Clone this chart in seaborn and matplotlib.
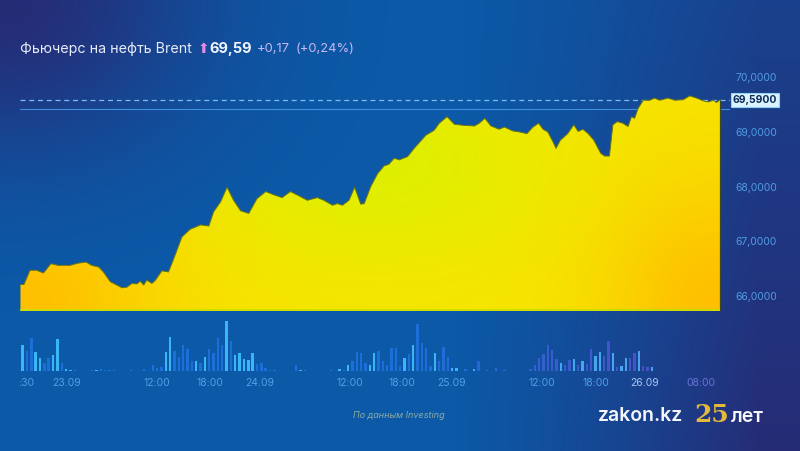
import numpy as np
import seaborn as sns
import matplotlib.pyplot as plt
from matplotlib.colors import to_rgb

# Brent futures, 30-min bar index -> price (USD)
price_t = [0.5, 1.3, 2.7, 4.2, 5.8, 7.5, 9.2, 11.9, 13.8, 15.6, 16.9, 18.5, 19.6, 21.2,
           23.9, 25.0, 26.2, 27.3, 28.1, 28.9, 29.6, 30.8, 31.6, 33.1, 34.6, 35.8, 37.7,
           39.6, 42.0, 43.9, 45.0, 46.6, 48.1, 49.6, 51.2, 53.1, 55.0, 57.0, 58.9, 60.8,
           62.7, 64.7, 66.6, 68.9, 70.4, 72.4, 73.5, 74.7, 76.2, 77.5, 78.9, 79.7, 81.2,
           82.8, 84.3, 85.4, 86.6, 87.8, 89.7, 91.2, 93.9, 95.8, 97.0, 98.8, 100.5, 102.8,
           105.1, 106.2, 107.5, 108.9, 110.8, 112.0, 113.9, 115.5, 117.2, 118.6, 119.9,
           120.9, 122.0, 123.2, 123.9, 124.9, 126.6, 128.0, 129.0, 130.1, 131.3, 132.6,
           134.2, 135.1, 136.2, 137.0, 138.0, 139.3, 140.5, 141.3, 142.0, 142.8, 144.0,
           145.5, 146.6, 147.8, 149.7, 151.3, 153.2, 154.7, 156.3, 157.8, 159.0, 160.1,
           160.9, 161.7]
price = [66.21, 66.21, 66.47, 66.47, 66.42, 66.59, 66.56, 66.56, 66.60, 66.62, 66.56, 66.53,
         66.44, 66.26, 66.15, 66.16, 66.23, 66.22, 66.27, 66.20, 66.29, 66.23, 66.29, 66.46,
         66.44, 66.68, 67.08, 67.22, 67.30, 67.28, 67.54, 67.72, 67.99, 67.75, 67.56, 67.51,
         67.78, 67.91, 67.85, 67.80, 67.91, 67.83, 67.75, 67.80, 67.75, 67.66, 67.69, 67.66,
         67.75, 67.99, 67.68, 67.69, 68.00, 68.24, 68.38, 68.41, 68.52, 68.49, 68.55, 68.70,
         68.94, 69.03, 69.16, 69.28, 69.14, 69.12, 69.11, 69.16, 69.25, 69.11, 69.05, 69.09,
         69.02, 69.00, 68.97, 69.09, 69.16, 69.05, 69.00, 68.82, 68.70, 68.85, 68.97, 69.13,
         69.01, 69.05, 68.97, 68.85, 68.61, 68.56, 68.56, 69.13, 69.19, 69.16, 69.10, 69.28,
         69.25, 69.43, 69.58, 69.58, 69.62, 69.58, 69.62, 69.58, 69.59, 69.66, 69.62, 69.57,
         69.55, 69.58, 69.54, 69.59]

# volume per 30-min bar (relative units), l = light bar, d = dark bar
volume = [23, 26, 20, 33, 19, 13, 8, 13, 16, 32, 8, 2, 1.5, 1, 0.5, 0.3, 0.3, 1, 1, 2,
          1, 1, 1.3, 0.5, 0.5, 0.3, 0.7, 0.3, 0.3, 2.3, 0.5, 5.7, 3.3, 4, 19, 34,
          20, 14, 26, 22, 10, 10, 8, 14, 22, 18, 33, 26, 50, 30, 16, 18, 12, 11, 18, 7,
          8, 3, 1, 1, 0.5, 0.5, 0.3, 0.3, 6, 1, 1, 0.3, 0.3, 0.3, 0.3, 0.3, 1, 0.3, 1.7, 1.5,
          6, 10, 19, 18, 8, 6, 18, 20, 10, 6, 23, 23, 5, 13, 17, 26, 47, 28, 23, 5,
          18, 10, 24, 14, 3.3, 3.3, 0.3, 1.7, 0.5, 1.7, 10, 0.3, 1, 0.3, 3.3, 0.3, 1, 0.3,
          0.3, 0.3, 0.3, 0.3, 2.3, 5.7, 12.7, 16.7, 26, 21, 11.7, 8.3, 5.7, 11, 11.7, 5.7,
          10, 6.7, 21.7, 15, 19, 15, 30, 17.7, 4.3, 5, 13.3, 13.3, 17.7, 20, 5, 4.3, 4.3]
vol_side = ("dlddllddlldlldddddldddddddddldldd" "dll"
            "dddddldlddddldllllldddddlddddldlddddddldldd"
            "ddllddddddldlddddldddllddlldldddddddddddddddddlddldlddllddldllddlddldldl")

tick_pos = [1.9, 11.2, 31.9, 44.2, 55.7, 76.4, 88.4, 99.9, 120.7, 133.1, 144.4, 157.2]
tick_lab = [':30', '23.09', '12:00', '18:00', '24.09', '12:00', '18:00', '25.09',
            '12:00', '18:00', '26.09', '08:00']
y_ticks = [66, 67, 68, 69, 70]
last_price = 69.59
change = 0.17
change_pct = 0.24

sns.set_theme(style='white')
plt.rcParams['font.family'] = ['Inter', 'DejaVu Sans']

W, H = 800, 451
fig = plt.figure(figsize=(8, 4.51), dpi=100)


def fx(px):
    return px / W


def fy(py):
    return 1 - py / H


# background gradient
bg = fig.add_axes([0, 0, 1, 1], zorder=-10)
bx, by = np.meshgrid(np.linspace(0, 1, 400), np.linspace(0, 1, 226))
blue = np.array(to_rgb('#0b5aa8'))
navy = np.array(to_rgb('#262c76'))
w_tl = np.exp(-(bx ** 2 / 0.06 + by ** 2 / 0.12))
w_r = np.clip((bx - 0.55) / 0.4, 0, 1) ** 1.3 * (0.55 + 0.45 * by)
w_n = np.clip(np.maximum(w_tl, w_r), 0, 1)[..., None]
bg.imshow(blue * (1 - w_n) + navy * w_n, extent=[0, 1, 0, 1], aspect='auto')
bg.axis('off')

# price panel
x_lo, x_hi = (20 - 18.3) / 4.34, (730 - 18.3) / 4.34
y_lo, y_hi = 65.725, 70.207
ax = fig.add_axes([fx(20), fy(311), fx(710), (311 - 66) / H])
ax.set_facecolor('none')
ax.set_xlim(x_lo, x_hi)
ax.set_ylim(y_lo, y_hi)

poly = ax.fill_between(price_t, price, y_lo, color='none', lw=0)
gx, gy = np.meshgrid(np.linspace(0, 1, 300), np.linspace(1, 0, 200))
yel = np.array(to_rgb('#f7e500'))
ora = np.array(to_rgb('#ffc000'))
lim = np.array(to_rgb('#dcf000'))
w_o = np.maximum(np.exp(-(gx ** 2 / 0.04 + gy ** 2 / 0.35)),
                 np.exp(-((gx - 0.98) ** 2 / 0.025 + gy ** 2 / 0.3)))[..., None]
w_l = (0.9 * np.exp(-((gx - 0.5) ** 2 / 0.06 + (gy - 0.6) ** 2 / 0.15)))[..., None]
fill_img = np.clip(yel + w_o * (ora - yel) + w_l * (lim - yel), 0, 1)
im = ax.imshow(fill_img, extent=[x_lo, x_hi, y_lo, y_hi], aspect='auto', zorder=1)
im.set_clip_path(poly.get_paths()[0], transform=ax.transData)

sns.lineplot(x=price_t, y=price, ax=ax, color='#6a7418', lw=0.7, zorder=2)
ax.vlines(price_t[-1], y_lo, price[-1], color='#3d4a20', lw=0.9, zorder=2)
ax.hlines(y_lo + 0.01, price_t[0], price_t[-1], color='#c6e000', lw=1.2, zorder=2)

ax.axhline(last_price, color='#7dbcf0', lw=0.9, ls=(0, (4, 3)), zorder=0.5)
ax.axhline(last_price - change, color='#3f8fe0', lw=0.8, zorder=0.5)
ax.text(1.004, last_price, f'{last_price:.4f}'.replace('.', ','),
        transform=ax.get_yaxis_transform(), ha='left', va='center', fontsize=7.5,
        fontweight='bold', color='#0c2c58', clip_on=False,
        bbox=dict(boxstyle='square,pad=0.2', fc='#dcf3ff', ec='#8fd0f5', lw=0.8))

ax.yaxis.tick_right()
ax.set_yticks(y_ticks, [f'{v:.4f}'.replace('.', ',') for v in y_ticks])
ax.tick_params(axis='y', length=0, pad=4, labelsize=7.5, labelcolor='#4f9ce2')
ax.set_xticks([])
for s in ax.spines.values():
    s.set_visible(False)
ax.set_xlabel('')
ax.set_ylabel('')

# volume panel
axv = fig.add_axes([fx(20), fy(371), fx(710), 55 / H])
axv.set_facecolor('none')
idx = np.arange(len(volume))
sns.barplot(x=idx, y=volume, native_scale=True, width=0.55, errorbar=None,
            color='#1f70d8', ax=axv)
light_l, light_r = np.array(to_rgb('#38b6f6')), np.array(to_rgb('#4aa0f0'))
dark_l, dark_r = np.array(to_rgb('#1c6fd8')), np.array(to_rgb('#4a50c8'))
for i, p in enumerate(axv.patches):
    f = np.clip((i - 90) / 56, 0, 1)
    if vol_side[i] == 'l':
        c = light_l * (1 - f) + light_r * f
    else:
        c = dark_l * (1 - f) + dark_r * f
    p.set_facecolor(c)
    p.set_edgecolor('none')
axv.set_xlim(x_lo, x_hi)
axv.set_ylim(0, 55)
axv.set_yticks([])
axv.set_xticks(tick_pos, tick_lab)
axv.tick_params(axis='x', length=0, pad=5, labelsize=7.5, labelcolor='#4f9fe6')
for lab in axv.get_xticklabels():
    if lab.get_text() == '26.09':
        lab.set_color('#a9c6f2')
    elif lab.get_text() == '08:00':
        lab.set_color('#6a72d8')
for s in axv.spines.values():
    s.set_visible(False)
axv.set_xlabel('')
axv.set_ylabel('')

# header
fig.text(fx(20), fy(49), 'Фьючерс на нефть Brent', fontsize=10.3, color='#e6ebf8',
         va='center', ha='left')
fig.text(fx(198), fy(49), '⬆', fontsize=10, color='#e68ae6', va='center', ha='left',
         family=['DejaVu Sans'])
fig.text(fx(209), fy(49), f'{last_price:.2f}'.replace('.', ','), fontsize=10.5,
         fontweight='bold', color='#f2f4fb', va='center', ha='left')
fig.text(fx(257), fy(49), f'+{change:.2f}'.replace('.', ','), fontsize=9.3,
         color='#c6b8f2', va='center', ha='left')
fig.text(fx(296), fy(49), f'(+{change_pct:.2f}%)'.replace('.', ','), fontsize=9.3,
         color='#c6b8f2', va='center', ha='left')

# footer
fig.text(fx(399), fy(415), 'По данным Investing', fontsize=6.5, style='italic',
         color='#8eaba2', ha='center', va='center')
fig.text(fx(598), fy(416), 'zakon.kz', fontsize=14, fontweight='semibold',
         color='#f4f6fb', ha='left', va='center')
fig.text(fx(694), fy(415), '25', fontsize=18, fontweight='bold',
         color='#e3b83c', ha='left', va='center', family=['DejaVu Serif'])
fig.text(fx(731), fy(417), 'лет', fontsize=14, fontweight='semibold',
         color='#f4f6fb', ha='left', va='center')

plt.savefig('out.png', dpi=100)
